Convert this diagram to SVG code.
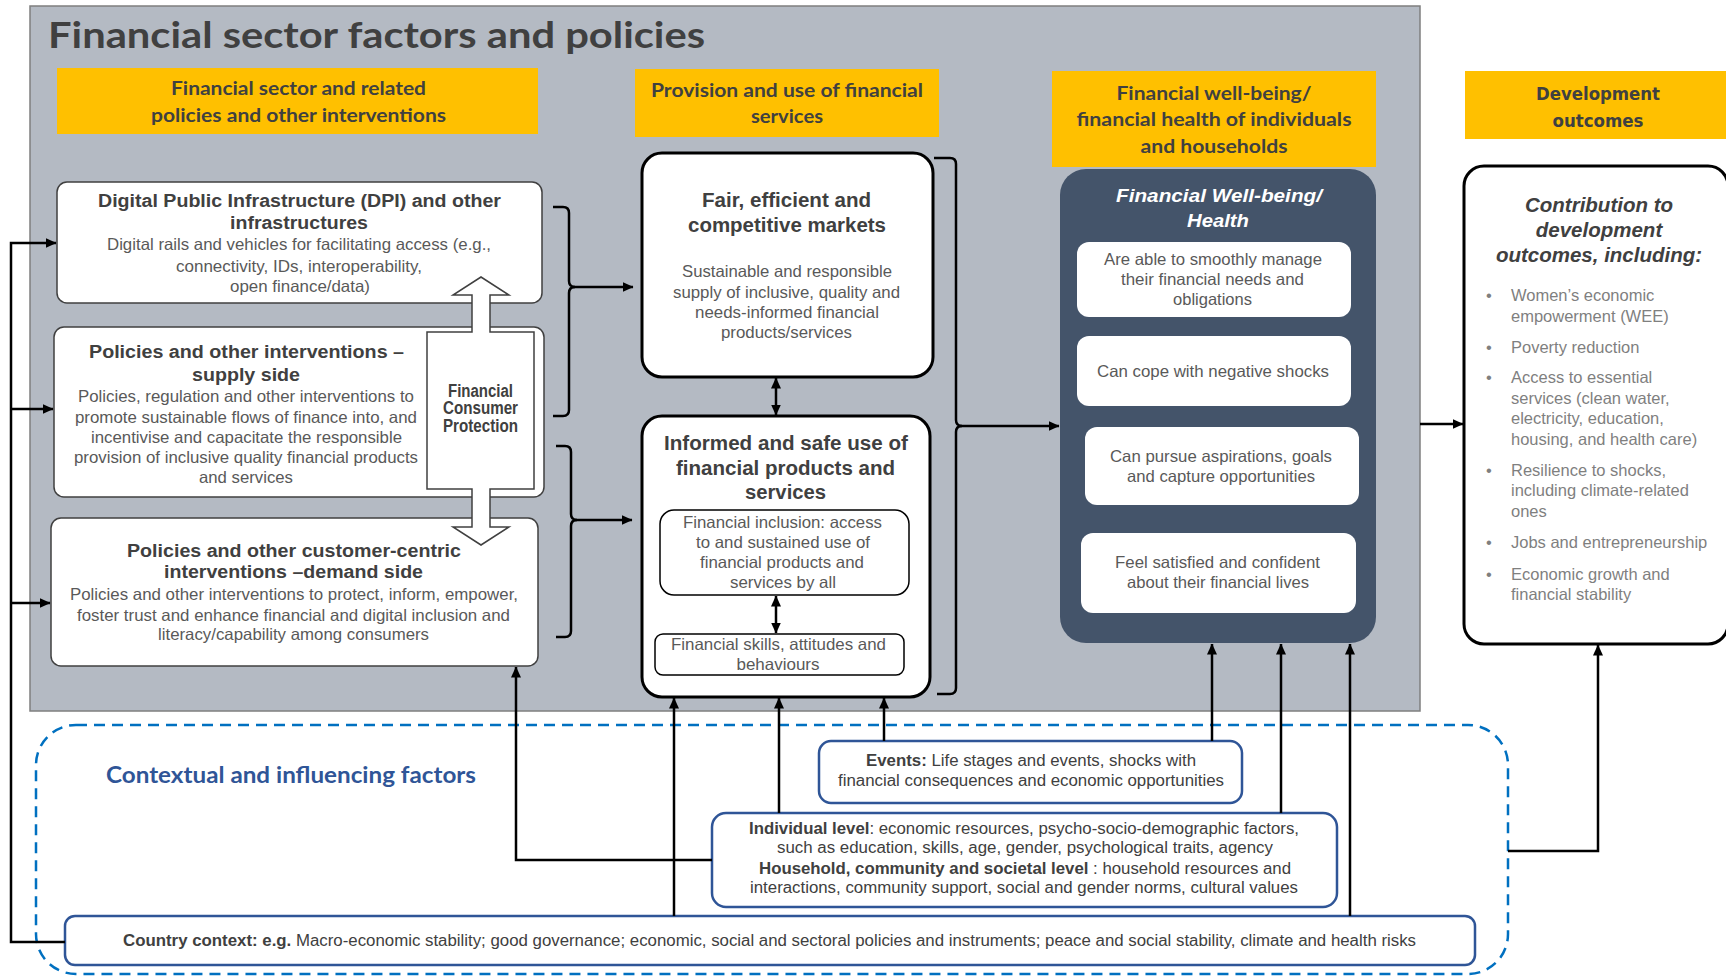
<svg xmlns="http://www.w3.org/2000/svg" width="1726" height="976" viewBox="0 0 1726 976">
  <defs>
    <marker id="ah" viewBox="0 0 11 10" refX="10.5" refY="5" markerWidth="11" markerHeight="10" markerUnits="userSpaceOnUse" orient="auto-start-reverse">
      <path d="M0,0 L11,5 L0,10 z" fill="#000"/>
    </marker>
    <style>
      .hdr{font-family:Lato,"Liberation Sans",sans-serif;font-weight:700;font-size:19px;fill:#404040;text-anchor:middle}
      .t{font-family:"Liberation Sans",Arial,sans-serif;font-size:16.5px;fill:#595959;text-anchor:middle}
      .tb{font-family:"Liberation Sans",Arial,sans-serif;font-weight:700;font-size:18px;fill:#404040;text-anchor:middle}
      .tbl{font-family:"Liberation Sans",Arial,sans-serif;font-weight:700;font-size:20px;fill:#404040;text-anchor:middle}
      .ctxt{font-family:"Liberation Sans",Arial,sans-serif;font-size:16px;fill:#404040;text-anchor:middle}
      .bul{font-family:"Liberation Sans",Arial,sans-serif;font-size:16.5px;fill:#7f7f7f}
      .b{font-weight:700}
      .box{fill:#fff;stroke:#404040;stroke-width:1.5}
      .bbox{fill:#fff;stroke:#000;stroke-width:3}
      .ibox{fill:#fff;stroke:#000;stroke-width:1.5}
      .wbox{fill:#fff}
      .ctx{fill:#fff;stroke:#2f5597;stroke-width:2.5}
      .yel{fill:#ffc000}
      .ln{fill:none;stroke:#000;stroke-width:2.5}
      .arr{marker-end:url(#ah)}
      .dbl{marker-start:url(#ah);marker-end:url(#ah)}
    </style>
  </defs>

  <!-- background -->
  <rect x="0" y="0" width="1726" height="976" fill="#fff"/>

  <!-- financial sector panel -->
  <g id="panel">
    <rect x="30" y="6" width="1390" height="705" fill="#b4bac3" stroke="#7f7f7f" stroke-width="1.5"/>
    <text x="48" y="48" font-family="Lato,'Liberation Sans',sans-serif" font-weight="700" font-size="37" fill="#404040" textLength="657" lengthAdjust="spacingAndGlyphs">Financial sector factors and policies</text>
  </g>

  <!-- contextual factors dashed area -->
  <g id="context-area">
    <rect x="36" y="725" width="1472" height="249" rx="40" fill="none" stroke="#0070c0" stroke-width="2.5" stroke-dasharray="11 7"/>
    <text x="106" y="783" font-family="Lato,'Liberation Sans',sans-serif" font-weight="700" font-size="22" fill="#2f5597" textLength="370" lengthAdjust="spacingAndGlyphs">Contextual and influencing factors</text>
  </g>

  <!-- column headers -->
  <g id="hdr-policies">
    <rect class="yel" x="57" y="68" width="481" height="66"/>
    <text class="hdr" x="298.5" y="95" textLength="255" lengthAdjust="spacingAndGlyphs">Financial sector and related</text>
    <text class="hdr" x="298.5" y="122" textLength="295" lengthAdjust="spacingAndGlyphs">policies and other interventions</text>
  </g>
  <g id="hdr-provision">
    <rect class="yel" x="635" y="69" width="304" height="68"/>
    <text class="hdr" x="787" y="97" textLength="272" lengthAdjust="spacingAndGlyphs">Provision and use of financial</text>
    <text class="hdr" x="787" y="123" textLength="72" lengthAdjust="spacingAndGlyphs">services</text>
  </g>
  <g id="hdr-wellbeing">
    <rect class="yel" x="1052" y="71" width="324" height="96"/>
    <text class="hdr" x="1214" y="100" textLength="195" lengthAdjust="spacingAndGlyphs">Financial well-being/</text>
    <text class="hdr" x="1214" y="126" textLength="275" lengthAdjust="spacingAndGlyphs">financial health of individuals</text>
    <text class="hdr" x="1214" y="153" textLength="147" lengthAdjust="spacingAndGlyphs">and households</text>
  </g>
  <g id="hdr-development">
    <rect class="yel" x="1465" y="71" width="261" height="68"/>
    <text x="1598" y="100" font-family="'DejaVu Sans',Verdana,sans-serif" font-weight="700" font-size="17" fill="#404040" text-anchor="middle" textLength="124" lengthAdjust="spacingAndGlyphs">Development</text>
    <text x="1598" y="127" font-family="'DejaVu Sans',Verdana,sans-serif" font-weight="700" font-size="17" fill="#404040" text-anchor="middle" textLength="91" lengthAdjust="spacingAndGlyphs">outcomes</text>
  </g>

  <!-- policy boxes -->
  <g id="dpi">
    <rect class="box" x="57" y="182" width="485" height="121" rx="10"/>
    <text class="tb" x="299.5" y="207" textLength="403" lengthAdjust="spacingAndGlyphs">Digital Public Infrastructure (DPI) and other</text>
    <text class="tb" x="299" y="229" textLength="138" lengthAdjust="spacingAndGlyphs">infrastructures</text>
    <text class="t" x="299" y="250" textLength="384" lengthAdjust="spacingAndGlyphs">Digital rails and vehicles for facilitating access (e.g.,</text>
    <text class="t" x="299" y="272" textLength="246" lengthAdjust="spacingAndGlyphs">connectivity, IDs, interoperability,</text>
    <text class="t" x="300" y="292" textLength="140" lengthAdjust="spacingAndGlyphs">open finance/data)</text>
  </g>
  <g id="supply">
    <rect class="box" x="54" y="327" width="490" height="170" rx="10"/>
    <text class="tb" x="246.5" y="358" textLength="315" lengthAdjust="spacingAndGlyphs">Policies and other interventions –</text>
    <text class="tb" x="246" y="381" textLength="108" lengthAdjust="spacingAndGlyphs">supply side</text>
    <text class="t" x="246" y="402" textLength="336" lengthAdjust="spacingAndGlyphs">Policies, regulation and other interventions to</text>
    <text class="t" x="246" y="423" textLength="342" lengthAdjust="spacingAndGlyphs">promote sustainable flows of finance into, and</text>
    <text class="t" x="246.5" y="443" textLength="311" lengthAdjust="spacingAndGlyphs">incentivise and capacitate the responsible</text>
    <text class="t" x="246" y="463" textLength="344" lengthAdjust="spacingAndGlyphs">provision of inclusive quality financial products</text>
    <text class="t" x="246" y="483" textLength="94" lengthAdjust="spacingAndGlyphs">and services</text>
  </g>
  <g id="demand">
    <rect class="box" x="51" y="518" width="487" height="148" rx="10"/>
    <text class="tb" x="294" y="557" textLength="334" lengthAdjust="spacingAndGlyphs">Policies and other customer-centric</text>
    <text class="tb" x="293.5" y="578" textLength="259" lengthAdjust="spacingAndGlyphs">interventions –demand side</text>
    <text class="t" x="294" y="600" textLength="448" lengthAdjust="spacingAndGlyphs">Policies and other interventions to protect, inform, empower,</text>
    <text class="t" x="293.5" y="621" textLength="433" lengthAdjust="spacingAndGlyphs">foster trust and enhance financial and digital inclusion and</text>
    <text class="t" x="293.5" y="640" textLength="271" lengthAdjust="spacingAndGlyphs">literacy/capability among consumers</text>
  </g>

  <!-- up-down callout: consumer protection -->
  <g id="consumer-protection">
    <path d="M481,277 L509,295 L490,295 L490,332 L534,332 L534,489 L490,489 L490,527 L509,527 L481,545 L453,527 L472,527 L472,489 L427,489 L427,332 L472,332 L472,295 L453,295 Z" fill="#fff" stroke="#404040" stroke-width="1.5" stroke-linejoin="miter"/>
    <text class="tb" x="480.5" y="397" font-size="15" textLength="65" lengthAdjust="spacingAndGlyphs">Financial</text>
    <text class="tb" x="480.5" y="414" font-size="15" textLength="75" lengthAdjust="spacingAndGlyphs">Consumer</text>
    <text class="tb" x="480.5" y="432" font-size="15" textLength="75" lengthAdjust="spacingAndGlyphs">Protection</text>
  </g>

  <!-- provision and use -->
  <g id="markets">
    <rect class="bbox" x="642" y="153" width="291" height="224" rx="20"/>
    <text class="tbl" x="786.5" y="207" textLength="169" lengthAdjust="spacingAndGlyphs">Fair, efficient and</text>
    <text class="tbl" x="787" y="232" textLength="198" lengthAdjust="spacingAndGlyphs">competitive markets</text>
    <text class="t" x="787" y="277" textLength="210" lengthAdjust="spacingAndGlyphs">Sustainable and responsible</text>
    <text class="t" x="786.5" y="298" textLength="227" lengthAdjust="spacingAndGlyphs">supply of inclusive, quality and</text>
    <text class="t" x="787" y="318" textLength="184" lengthAdjust="spacingAndGlyphs">needs-informed financial</text>
    <text class="t" x="786.5" y="338" textLength="131" lengthAdjust="spacingAndGlyphs">products/services</text>
  </g>
  <g id="informed-use">
    <rect class="bbox" x="642" y="416" width="288" height="281" rx="20"/>
    <text class="tbl" x="786" y="450" textLength="244" lengthAdjust="spacingAndGlyphs">Informed and safe use of</text>
    <text class="tbl" x="785.5" y="475" textLength="219" lengthAdjust="spacingAndGlyphs">financial products and</text>
    <text class="tbl" x="785.5" y="499" textLength="81" lengthAdjust="spacingAndGlyphs">services</text>
  </g>
  <g id="inclusion">
    <rect class="ibox" x="660" y="510" width="249" height="85" rx="14"/>
    <text class="t" x="782.5" y="528" textLength="199" lengthAdjust="spacingAndGlyphs">Financial inclusion: access</text>
    <text class="t" x="783" y="548" textLength="174" lengthAdjust="spacingAndGlyphs">to and sustained use of</text>
    <text class="t" x="782" y="568" textLength="164" lengthAdjust="spacingAndGlyphs">financial products and</text>
    <text class="t" x="783" y="588" textLength="106" lengthAdjust="spacingAndGlyphs">services by all</text>
  </g>
  <g id="skills">
    <rect class="ibox" x="655" y="634" width="249" height="41" rx="8"/>
    <text class="t" x="778.5" y="650" textLength="215" lengthAdjust="spacingAndGlyphs">Financial skills, attitudes and</text>
    <text class="t" x="778" y="670" textLength="83" lengthAdjust="spacingAndGlyphs">behaviours</text>
  </g>

  <!-- financial well-being -->
  <g id="wellbeing">
    <rect x="1060" y="169" width="316" height="474" rx="26" fill="#44546a"/>
    <text x="1219" y="202" font-family="'Liberation Sans',Arial,sans-serif" font-weight="700" font-style="italic" font-size="19" fill="#fff" text-anchor="middle" textLength="206" lengthAdjust="spacingAndGlyphs">Financial Well-being/</text>
    <text x="1218" y="227" font-family="'Liberation Sans',Arial,sans-serif" font-weight="700" font-style="italic" font-size="19" fill="#fff" text-anchor="middle" textLength="62" lengthAdjust="spacingAndGlyphs">Health</text>
  </g>
  <g id="wb-manage">
    <rect class="wbox" x="1077" y="242" width="274" height="75" rx="12"/>
    <text class="t" x="1213" y="265" textLength="218" lengthAdjust="spacingAndGlyphs">Are able to smoothly manage</text>
    <text class="t" x="1212.5" y="285" textLength="183" lengthAdjust="spacingAndGlyphs">their financial needs and</text>
    <text class="t" x="1212.5" y="305" textLength="79" lengthAdjust="spacingAndGlyphs">obligations</text>
  </g>
  <g id="wb-cope">
    <rect class="wbox" x="1077" y="336" width="274" height="70" rx="12"/>
    <text class="t" x="1213" y="377" textLength="232" lengthAdjust="spacingAndGlyphs">Can cope with negative shocks</text>
  </g>
  <g id="wb-pursue">
    <rect class="wbox" x="1085" y="427" width="274" height="78" rx="12"/>
    <text class="t" x="1221" y="462" textLength="222" lengthAdjust="spacingAndGlyphs">Can pursue aspirations, goals</text>
    <text class="t" x="1221" y="482" textLength="188" lengthAdjust="spacingAndGlyphs">and capture opportunities</text>
  </g>
  <g id="wb-satisfied">
    <rect class="wbox" x="1081" y="533" width="275" height="80" rx="12"/>
    <text class="t" x="1217.5" y="568" textLength="205" lengthAdjust="spacingAndGlyphs">Feel satisfied and confident</text>
    <text class="t" x="1218" y="588" textLength="182" lengthAdjust="spacingAndGlyphs">about their financial lives</text>
  </g>

  <!-- development outcomes -->
  <g id="outcomes">
    <rect class="bbox" x="1464" y="166" width="264" height="478" rx="20"/>
    <g font-family="'Liberation Sans',Arial,sans-serif" font-weight="700" font-style="italic" font-size="20.5" fill="#404040" text-anchor="middle">
      <text x="1599" y="212">Contribution to</text>
      <text x="1599" y="237">development</text>
      <text x="1599" y="262">outcomes, including:</text>
    </g>
    <g class="bul">
      <text x="1486" y="301">•</text><text x="1511" y="301">Women’s economic</text>
      <text x="1511" y="322">empowerment (WEE)</text>
      <text x="1486" y="353">•</text><text x="1511" y="353">Poverty reduction</text>
      <text x="1486" y="383">•</text><text x="1511" y="383">Access to essential</text>
      <text x="1511" y="404">services (clean water,</text>
      <text x="1511" y="424">electricity, education,</text>
      <text x="1511" y="445">housing, and health care)</text>
      <text x="1486" y="476">•</text><text x="1511" y="476">Resilience to shocks,</text>
      <text x="1511" y="496">including climate-related</text>
      <text x="1511" y="517">ones</text>
      <text x="1486" y="548">•</text><text x="1511" y="548">Jobs and entrepreneurship</text>
      <text x="1486" y="580">•</text><text x="1511" y="580">Economic growth and</text>
      <text x="1511" y="600">financial stability</text>
    </g>
  </g>

  <!-- contextual factor boxes -->
  <g id="events">
    <rect class="ctx" x="819" y="741" width="423" height="62" rx="12"/>
    <text class="ctxt" x="1031" y="766" textLength="330" lengthAdjust="spacingAndGlyphs"><tspan class="b">Events:</tspan> Life stages and events, shocks with</text>
    <text class="ctxt" x="1031" y="786" textLength="386" lengthAdjust="spacingAndGlyphs">financial consequences and economic opportunities</text>
  </g>
  <g id="individual">
    <rect class="ctx" x="712" y="813" width="625" height="94" rx="14"/>
    <text class="ctxt" x="1024" y="834" textLength="550" lengthAdjust="spacingAndGlyphs"><tspan class="b">Individual level</tspan>: economic resources, psycho-socio-demographic factors,</text>
    <text class="ctxt" x="1025" y="853" textLength="496" lengthAdjust="spacingAndGlyphs">such as education, skills, age, gender, psychological traits, agency</text>
    <text class="ctxt" x="1025" y="874" textLength="532" lengthAdjust="spacingAndGlyphs"><tspan class="b">Household, community and societal level</tspan> : household resources and</text>
    <text class="ctxt" x="1024" y="893" textLength="548" lengthAdjust="spacingAndGlyphs">interactions, community support, social and gender norms, cultural values</text>
  </g>
  <g id="country">
    <rect class="ctx" x="65" y="916" width="1410" height="49" rx="10"/>
    <text class="ctxt" x="123" y="946" text-anchor="start" style="text-anchor:start" textLength="1293" lengthAdjust="spacingAndGlyphs"><tspan class="b">Country context: e.g.</tspan> Macro-economic stability; good governance; economic, social and sectoral policies and instruments; peace and social stability, climate and health risks</text>
  </g>

  <!-- connectors -->
  <g id="connectors">
    <!-- feedback from country context to the policy boxes -->
    <path class="ln arr" d="M65,942 H11 V243 H56"/>
    <path class="ln arr" d="M11,409 H53"/>
    <path class="ln arr" d="M11,603 H50"/>
    <!-- brace: DPI + supply side -> markets -->
    <path class="ln" d="M553,207 H563 Q569,207 569,213 V281 Q569,287 575,287 Q569,287 569,293 V410 Q569,416 563,416 H553"/>
    <path class="ln arr" d="M573,287 H633"/>
    <!-- brace: supply + demand side -> informed use -->
    <path class="ln" d="M556,446 H565 Q571,446 571,452 V514 Q571,520 577,520 Q571,520 571,526 V631 Q571,637 565,637 H556"/>
    <path class="ln arr" d="M575,520 H632"/>
    <!-- brace: provision and use -> well-being -->
    <path class="ln" d="M934,158 H950 Q956,158 956,164 V420 Q956,426 962,426 Q956,426 956,432 V688 Q956,694 950,694 H937"/>
    <path class="ln arr" d="M960,426 H1059"/>
    <!-- two-way links -->
    <path class="ln dbl" d="M776,378 V415"/>
    <path class="ln dbl" d="M776,596 V633"/>
    <!-- contextual factors -> informed use -->
    <path class="ln arr" d="M674,916 V698"/>
    <path class="ln arr" d="M779,813 V698"/>
    <path class="ln arr" d="M884,741 V698"/>
    <!-- contextual factors -> well-being -->
    <path class="ln arr" d="M1212,741 V644"/>
    <path class="ln arr" d="M1281,813 V644"/>
    <path class="ln arr" d="M1350,916 V644"/>
    <!-- individual level -> demand side -->
    <path class="ln arr" d="M712,860 H516 V667"/>
    <!-- context -> development outcomes -->
    <path class="ln arr" d="M1508,851 H1598 V645"/>
    <!-- well-being -> development outcomes -->
    <path class="ln arr" d="M1420,424 H1463"/>
  </g>
</svg>
